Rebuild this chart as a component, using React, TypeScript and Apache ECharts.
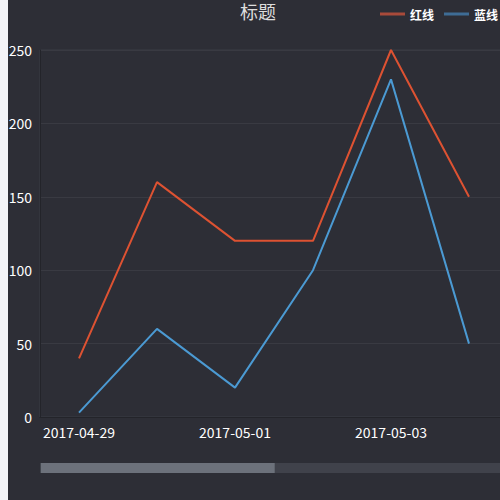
import React, { useEffect, useRef } from "react";
import * as echarts from "echarts";

const categories = [
  "2017-04-29", "2017-04-30", "2017-05-01", "2017-05-02", "2017-05-03", "2017-05-04",
  "2017-05-05", "2017-05-06", "2017-05-07", "2017-05-08", "2017-05-09",
];
const redValues = [40, 160, 120, 120, 250, 150, null, null, null, null, null];
const blueValues = [3, 60, 20, 100, 230, 50, null, null, null, null, null];
const seriesNames = ["红线", "蓝线"];
const yTicks = { min: 0, max: 250, interval: 50 };

const FONT = "'Noto Sans CJK SC', 'Noto Sans', sans-serif";

export default function App() {
  const ref = useRef<HTMLDivElement>(null);
  useEffect(() => {
    document.body.style.backgroundColor = "#f3f4f8";
    const chart = echarts.init(ref.current!, null, { renderer: "svg" });
    chart.setOption({
      animation: false,
      backgroundColor: "#2d2e36",
      textStyle: { fontFamily: FONT },
      title: {
        text: "标题",
        left: "center",
        top: 2,
        padding: 0,
        textStyle: { color: "#dddddd", fontSize: 18, fontWeight: "normal", fontFamily: FONT },
      },
      legend: {
        data: [
          { name: seriesNames[0], itemStyle: { color: "#a84a3a" } },
          { name: seriesNames[1], itemStyle: { color: "#3e6c95" } },
        ],
        right: 10,
        top: 8,
        padding: 0,
        itemWidth: 25,
        itemHeight: 14,
        itemGap: 10,
        icon: "path://M0,0L25,0L25,3L0,3Z",
        textStyle: { color: "#ffffff", fontSize: 12, fontWeight: "bold", fontFamily: FONT },
      },
      grid: {
        left: 32,
        right: 0,
        top: 50,
        bottom: 83,
        show: true,
        borderColor: "#3b3c44",
        borderWidth: 1,
        outerBoundsMode: "none",
        containLabel: false,
      },
      xAxis: {
        type: "category",
        data: categories,
        boundaryGap: true,
        axisLine: { lineStyle: { color: "#23242a", width: 1 } },
        axisTick: {
          alignWithLabel: true,
          interval: (i: number) => i % 2 === 1,
          length: 5,
          lineStyle: { color: "#44454d" },
        },
        axisLabel: { color: "#ffffff", fontSize: 14, interval: 1, margin: 8, fontFamily: FONT },
        splitLine: { show: false },
      },
      yAxis: {
        type: "value",
        min: yTicks.min,
        max: yTicks.max,
        interval: yTicks.interval,
        axisLine: { show: true, lineStyle: { color: "#23242a", width: 1 } },
        axisTick: { show: false },
        axisLabel: { color: "#ffffff", fontSize: 14, margin: 8, fontFamily: FONT },
        splitLine: { lineStyle: { color: "#393a42" } },
      },
      dataZoom: [
        {
          type: "slider",
          xAxisIndex: 0,
          start: 0,
          end: 50,
          left: 32,
          right: 0,
          bottom: 27,
          height: 10,
          showDataShadow: false,
          showDetail: false,
          brushSelect: false,
          borderColor: "transparent",
          backgroundColor: "#40424b",
          fillerColor: "#6c717b",
          handleSize: 0,
          handleStyle: { opacity: 0 },
          moveHandleSize: 0,
          moveHandleStyle: { opacity: 0 },
          emphasis: { handleStyle: { opacity: 0 }, moveHandleStyle: { opacity: 0 } },
          filterMode: "filter",
        },
      ],
      series: [
        {
          name: seriesNames[0],
          type: "line",
          data: redValues,
          symbol: "none",
          lineStyle: { color: "#dd5232", width: 2 },
          itemStyle: { color: "#dd5232" },
        },
        {
          name: seriesNames[1],
          type: "line",
          data: blueValues,
          symbol: "none",
          lineStyle: { color: "#4b9ad3", width: 2 },
          itemStyle: { color: "#4b9ad3" },
        },
      ],
    });
    return () => chart.dispose();
  }, []);
  return (
    <div
      ref={ref}
      style={{ position: "absolute", left: 8, top: 0, width: 500, height: 500 }}
    />
  );
}
